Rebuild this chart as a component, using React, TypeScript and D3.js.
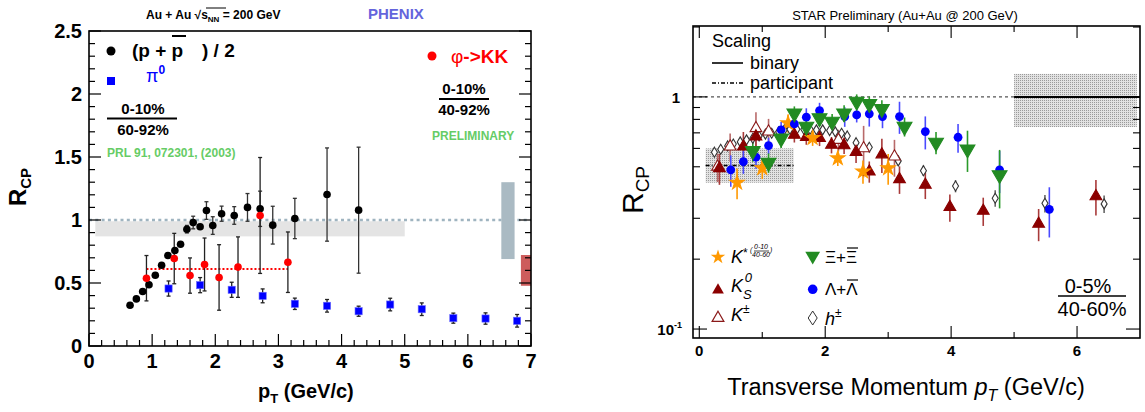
import React from 'react';
import * as d3 from 'd3';

// left panel: PHENIX
const ppPt = [0.65, 0.75, 0.85, 0.95, 1.05, 1.15, 1.25, 1.36, 1.45, 1.55, 1.65, 1.76, 1.86, 1.96, 2.10, 2.30, 2.51, 2.71, 2.91, 3.26, 3.77, 4.27];
const ppR = [0.324, 0.374, 0.432, 0.486, 0.562, 0.641, 0.718, 0.758, 0.808, 0.927, 0.98, 0.946, 1.075, 0.956, 1.05, 1.036, 1.10, 1.089, 0.959, 1.012, 1.202, 1.078];
const ppErr = [0, 0, 0, 0, 0, 0, 0, 0, 0, 0.03, 0.05, 0, 0.07, 0.07, 0.06, 0.07, 0.11, 0.14, 0.15, 0.16, 0.37, 0.5];

const phiPt = [0.91, 1.35, 1.60, 1.83, 2.06, 2.36, 2.71, 3.15];
const phiR = [0.538, 0.694, 0.559, 0.647, 0.544, 0.626, 1.036, 0.665];
const phiErr = [0.18, 0.2, 0.14, 0.21, 0.26, 0.24, 0.46, 0.24];
const phiMean = 0.612;

const piPt = [1.26, 1.76, 2.26, 2.75, 3.26, 3.77, 4.27, 4.77, 5.27, 5.77, 6.28, 6.78];
const piR = [0.456, 0.483, 0.446, 0.398, 0.335, 0.319, 0.276, 0.329, 0.292, 0.221, 0.218, 0.2];
const piErr = [0.06, 0.06, 0.06, 0.055, 0.045, 0.05, 0.04, 0.05, 0.05, 0.04, 0.045, 0.05];

const leftYTicks = [0, 0.5, 1, 1.5, 2, 2.5];
const leftXTicks = [0, 1, 2, 3, 4, 5, 6, 7];

// right panel: STAR
const kstPt = [0.60, 1.00, 1.41, 1.80, 2.20, 2.60, 3.00];
const kstR = [0.427, 0.493, 0.77, 0.665, 0.544, 0.477, 0.493];
const kstErr = [0.065, 0.05, 0.07, 0.05, 0.04, 0.055, 0.075];

const ksPt = [0.32, 0.70, 0.90, 1.51, 1.70, 1.91, 2.10, 2.30, 2.49, 2.70, 2.90, 3.18, 3.59, 3.98, 4.51, 5.39, 6.30];
const ksR = [0.493, 0.611, 0.675, 0.686, 0.672, 0.664, 0.621, 0.618, 0.579, 0.477, 0.565, 0.442, 0.418, 0.335, 0.323, 0.284, 0.373];
const ksErr = [0.075, 0.095, 0.08, 0.05, 0.05, 0.05, 0.05, 0.05, 0.06, 0.05, 0.095, 0.06, 0.055, 0.045, 0.045, 0.045, 0.065];

const kcPt = [0.29, 0.49, 0.90, 1.10, 2.21, 2.61, 3.10];
const kcR = [0.50, 0.611, 0.733, 0.709, 0.652, 0.60, 0.553];
const kcErr = [0.07, 0.085, 0.125, 0.095, 0.07, 0.15, 0.1];

const xiPt = [0.85, 1.10, 1.30, 1.51, 1.70, 1.91, 2.11, 2.30, 2.50, 2.70, 2.90, 3.26, 3.76, 4.26, 4.77];
const xiR = [0.585, 0.521, 0.663, 0.85, 0.745, 0.81, 0.783, 0.85, 0.955, 0.933, 0.888, 0.745, 0.636, 0.595, 0.461];
const xiErr = [0.06, 0.05, 0.06, 0.06, 0.06, 0.06, 0.06, 0.07, 0.07, 0.07, 0.08, 0.07, 0.07, 0.12, 0.13];

const lamPt = [0.50, 0.70, 0.90, 1.10, 1.30, 1.51, 1.70, 1.91, 2.31, 2.50, 2.70, 2.91, 3.18, 3.59, 4.11, 4.77, 5.56];
const lamR = [0.485, 0.526, 0.55, 0.617, 0.721, 0.765, 0.818, 0.873, 0.823, 0.836, 0.845, 0.823, 0.823, 0.709, 0.67, 0.485, 0.328];
const lamErr = [0.075, 0.06, 0.06, 0.05, 0.06, 0.06, 0.075, 0.07, 0.08, 0.06, 0.1, 0.09, 0.13, 0.115, 0.095, 0.1, 0.08];

const hPt = [0.24, 0.34, 0.45, 0.54, 0.65, 0.75, 0.85, 0.95, 1.05, 1.15, 1.26, 1.35, 1.44, 1.55, 1.66, 1.76, 1.86, 1.96, 2.07, 2.16, 2.26, 2.35, 2.49, 2.70, 3.16, 3.56, 4.07, 4.70, 5.49, 6.43];
const hR = [0.578, 0.595, 0.615, 0.627, 0.640, 0.653, 0.663, 0.679, 0.691, 0.697, 0.707, 0.721, 0.726, 0.726, 0.726, 0.726, 0.721, 0.721, 0.716, 0.707, 0.697, 0.679, 0.635, 0.607, 0.530, 0.481, 0.413, 0.366, 0.348, 0.346];
const hErr = [0.015, 0.015, 0.015, 0.015, 0.015, 0.015, 0.015, 0.015, 0.015, 0.015, 0.015, 0.015, 0.015, 0.015, 0.015, 0.015, 0.015, 0.015, 0.015, 0.015, 0.015, 0.015, 0.02, 0.02, 0.025, 0.025, 0.025, 0.03, 0.03, 0.03];

const rightXTicks = [0, 1, 2, 3, 4, 5, 6];
const rightYMinor = [0.2, 0.3, 0.4, 0.5, 0.6, 0.7, 0.8, 0.9, 2];

const FONT = 'Liberation Sans, Arial, Helvetica, sans-serif';

export default function App() {
  const xL = d3.scaleLinear().domain([0, 7]).range([89, 531]);
  const yL = d3.scaleLinear().domain([0, 2.5]).range([346, 31]);
  const xR = d3.scaleLinear().domain([-0.1, 7.0]).range([693, 1140]);
  const yR = d3.scaleLog().domain([0.0915, 2.02]).range([338, 26]);

  const triUp = d3.symbol().type(d3.symbolTriangle).size(60)();
  const triDown = d3.symbol().type(d3.symbolTriangle).size(95)();
  const star = d3.symbol().type(d3.symbolStar).size(65)();
  const diamond = 'M0,-5L3,0L0,5L-3,0Z';

  // left ticks
  const lyt = d3.range(0, 26).map(i => i / 10);
  const lxt = d3.range(0, 36).map(i => i / 5);

  const errL = (pts: number[], vals: number[], errs: number[], color: string) =>
    pts.map((p, i) => errs[i] > 0 ? (
      <g key={'e' + i} stroke={color} strokeWidth={1.3}>
        <line x1={xL(p)} x2={xL(p)} y1={yL(vals[i] - errs[i])} y2={yL(vals[i] + errs[i])} />
        <line x1={xL(p) - 2} x2={xL(p) + 2} y1={yL(vals[i] - errs[i])} y2={yL(vals[i] - errs[i])} />
        <line x1={xL(p) - 2} x2={xL(p) + 2} y1={yL(vals[i] + errs[i])} y2={yL(vals[i] + errs[i])} />
      </g>
    ) : null);

  const errR = (pts: number[], vals: number[], errs: number[], color: string) =>
    pts.map((p, i) => (
      <line key={'r' + i} x1={xR(p)} x2={xR(p)} y1={yR(vals[i] - errs[i])} y2={yR(vals[i] + errs[i])} stroke={color} strokeWidth={1.6} />
    ));

  const marksR = (pts: number[], vals: number[], path: string, fill: string, stroke: string, rot = 0) =>
    pts.map((p, i) => (
      <path key={'m' + i} d={path} transform={`translate(${xR(p)},${yR(vals[i])}) rotate(${rot})`} fill={fill} stroke={stroke} strokeWidth={1.1} />
    ));

  return (
    <svg width={1145} height={412} style={{ position: 'absolute', left: 0, top: 0, background: '#fff' }} fontFamily={FONT}>
      <defs>
        <pattern id="stip" width="2" height="2" patternUnits="userSpaceOnUse">
          <rect width="2" height="2" fill="#e2e2e2" />
          <rect width="1" height="1" fill="#9a9a9a" />
        </pattern>
        <clipPath id="clipR"><rect x={693} y={26} width={447} height={312} /></clipPath>
      </defs>

      {/* ---------- left panel ---------- */}
      <text x={146} y={19} fontSize={12} fontWeight="bold">Au + Au  √<tspan>s</tspan><tspan fontSize={8} dy={3}>NN</tspan><tspan dy={-3}> = 200 GeV</tspan></text>
      <line x1={206} x2={226} y1={8} y2={8} stroke="#000" strokeWidth={1} />
      <text x={368} y={19} fontSize={15} fontWeight="bold" fill="#6464dc">PHENIX</text>

      <rect x={xL(0.1)} y={yL(0.99)} width={xL(5.0) - xL(0.1)} height={yL(0.87) - yL(0.99)} fill="#e4e4e4" />
      <line x1={xL(0)} x2={xL(7)} y1={yL(1)} y2={yL(1)} stroke="#9fb4c0" strokeWidth={2.5} strokeDasharray="3 3.3" />
      <rect x={xL(6.53)} y={yL(1.3)} width={xL(6.74) - xL(6.53)} height={yL(0.69) - yL(1.3)} fill="#aabac3" />
      <rect x={xL(6.84)} y={yL(0.722)} width={xL(7) - xL(6.84)} height={yL(0.478) - yL(0.722)} fill="#cd5c5c" />

      <line x1={xL(phiPt[0])} x2={xL(phiPt[phiPt.length - 1])} y1={yL(phiMean)} y2={yL(phiMean)} stroke="#ff0000" strokeWidth={2} strokeDasharray="2 2" />

      {errL(ppPt, ppR, ppErr, '#333')}
      {errL(phiPt, phiR, phiErr, '#222')}
      {errL(piPt, piR, piErr, '#222')}
      {ppPt.map((p, i) => <circle key={'pp' + i} cx={xL(p)} cy={yL(ppR[i])} r={3.8} fill="#000" />)}
      {phiPt.map((p, i) => <circle key={'ph' + i} cx={xL(p)} cy={yL(phiR[i])} r={3.8} fill="#ff0000" />)}
      {piPt.map((p, i) => <rect key={'pi' + i} x={xL(p) - 3.6} y={yL(piR[i]) - 3.6} width={7.2} height={7.2} fill="#0000ff" stroke="#6a6aff" strokeWidth={0.6} />)}

      {/* frame + ticks */}
      <rect x={89} y={31} width={442} height={315} fill="none" stroke="#000" strokeWidth={1.6} />
      {lyt.map((v, i) => {
        const len = i % 5 === 0 ? 12 : 6;
        return (
          <g key={'ly' + i} stroke="#000" strokeWidth={1.2}>
            <line x1={89} x2={89 + len} y1={yL(v)} y2={yL(v)} />
            <line x1={531} x2={531 - len} y1={yL(v)} y2={yL(v)} />
          </g>
        );
      })}
      {lxt.map((v, i) => {
        const len = i % 5 === 0 ? 12 : 6;
        return <line key={'lx' + i} x1={xL(v)} x2={xL(v)} y1={346} y2={346 - len} stroke="#000" strokeWidth={1.2} />;
      })}
      {leftYTicks.map(v => (
        <text key={'lyl' + v} x={82} y={yL(v) + 7} textAnchor="end" fontSize={20} fontWeight="bold">{v}</text>
      ))}
      {leftXTicks.map(v => (
        <text key={'lxl' + v} x={xL(v)} y={368} textAnchor="middle" fontSize={20} fontWeight="bold">{v}</text>
      ))}
      <text x={258} y={398} fontSize={20} fontWeight="bold">p<tspan fontSize={13} dy={5}>T</tspan><tspan dy={-5}> (GeV/c)</tspan></text>
      <text transform="translate(26,187) rotate(-90)" textAnchor="middle" fontSize={24} fontWeight="bold">R<tspan fontSize={15} dy={5}>CP</tspan></text>

      {/* left legend */}
      <circle cx={111} cy={51} r={4.5} fill="#000" />
      <text x={132} y={57} fontSize={19} fontWeight="bold">(p + p</text>
      <line x1={172} x2={186} y1={36} y2={36} stroke="#000" strokeWidth={2} />
      <text x={202} y={57} fontSize={19} fontWeight="bold">) / 2</text>
      <rect x={107} y={77} width={8} height={8} fill="#0000ff" />
      <text x={146} y={82} fontSize={18} fill="#0000ff">π<tspan fontSize={12} dy={-8} fontWeight="bold">0</tspan></text>
      <text x={143} y={114} textAnchor="middle" fontSize={15} fontWeight="bold">0-10%</text>
      <line x1={107} x2={177} y1={118.5} y2={118.5} stroke="#000" strokeWidth={2} />
      <text x={143} y={135} textAnchor="middle" fontSize={15} fontWeight="bold">60-92%</text>
      <circle cx={432} cy={56} r={4.5} fill="#ff0000" />
      <text x={451} y={63} fontSize={19} fontWeight="bold" fill="#ff0000"><tspan fontWeight="normal">φ</tspan>-&gt;KK</text>
      <text x={464} y={94} textAnchor="middle" fontSize={15} fontWeight="bold">0-10%</text>
      <line x1={439} x2={489} y1={99} y2={99} stroke="#000" strokeWidth={2} />
      <text x={464} y={115} textAnchor="middle" fontSize={15} fontWeight="bold">40-92%</text>
      <text x={432} y={140} fontSize={12} fontWeight="bold" fill="#66cc66">PRELIMINARY</text>
      <text x={107} y={157} fontSize={12} fontWeight="bold" fill="#66cc66">PRL 91, 072301, (2003)</text>

      {/* ---------- right panel ---------- */}
      <text x={905} y={20} textAnchor="middle" fontSize={13}>STAR Preliminary (Au+Au @ 200 GeV)</text>

      <g clipPath="url(#clipR)">
        <rect x={xR(0.1)} y={yR(0.6)} width={xR(1.5) - xR(0.1)} height={yR(0.427) - yR(0.6)} fill="url(#stip)" />
        <line x1={xR(0.1)} x2={xR(1.5)} y1={yR(0.506)} y2={yR(0.506)} stroke="#000" strokeWidth={1.5} strokeDasharray="4 2 1 2" />
        <rect x={xR(5.0)} y={yR(1.256)} width={xR(6.95) - xR(5.0)} height={yR(0.742) - yR(1.256)} fill="url(#stip)" />
        <line x1={xR(-0.1)} x2={xR(5.0)} y1={yR(1)} y2={yR(1)} stroke="#555" strokeWidth={1.2} strokeDasharray="3 3" />
        <line x1={xR(5.0)} x2={xR(7.0)} y1={yR(1)} y2={yR(1)} stroke="#000" strokeWidth={2} />

        {errR(hPt, hR, hErr, '#666')}
        {errR(kcPt, kcR, kcErr, '#b86a6a')}
        {errR(ksPt, ksR, ksErr, '#a83a3a')}
        {errR(kstPt, kstR, kstErr, '#ff9900')}
        {errR(lamPt, lamR, lamErr, '#4a4aff')}
        {errR(xiPt, xiR, xiErr, '#2a9a2a')}

        {marksR(hPt, hR, diamond, '#fff', '#333')}
        {marksR(kcPt, kcR, triUp, '#fff', '#8b1a1a')}
        {marksR(ksPt, ksR, triUp, '#8b0000', '#8b0000')}
        {marksR(kstPt, kstR, star, '#ff9900', '#ff9900')}
        {lamPt.map((p, i) => <circle key={'lam' + i} cx={xR(p)} cy={yR(lamR[i])} r={4.4} fill="#0000ff" />)}
        {marksR(xiPt, xiR, triDown, '#228b22', '#228b22', 180)}
      </g>

      <rect x={693} y={26} width={447} height={312} fill="none" stroke="#000" strokeWidth={1.6} />
      {rightXTicks.map(v => {
        const len = v % 2 === 0 ? 12 : 6;
        return (
          <g key={'rx' + v} stroke="#000" strokeWidth={1.1}>
            <line x1={xR(v)} x2={xR(v)} y1={338} y2={338 - len} />
            <line x1={xR(v)} x2={xR(v)} y1={26} y2={26 + len} />
          </g>
        );
      })}
      {[0.1, 1].map(v => (
        <g key={'ryM' + v} stroke="#000" strokeWidth={1.1}>
          <line x1={693} x2={707} y1={yR(v)} y2={yR(v)} />
          <line x1={1140} x2={1126} y1={yR(v)} y2={yR(v)} />
        </g>
      ))}
      {rightYMinor.map(v => (
        <g key={'rym' + v} stroke="#000" strokeWidth={1.1}>
          <line x1={693} x2={700} y1={yR(v)} y2={yR(v)} />
          <line x1={1140} x2={1133} y1={yR(v)} y2={yR(v)} />
        </g>
      ))}
      <text x={680} y={yR(1) + 6} textAnchor="end" fontSize={15} fontWeight="bold">1</text>
      <text x={682} y={yR(0.1) + 6} textAnchor="end" fontSize={15} fontWeight="bold">10<tspan fontSize={9} dy={-7}>-1</tspan></text>
      {[0, 2, 4, 6].map(v => (
        <text key={'rxl' + v} x={xR(v)} y={356} textAnchor="middle" fontSize={15} fontWeight="bold">{v}</text>
      ))}
      <text x={906} y={395} textAnchor="middle" fontSize={23.5}>Transverse Momentum <tspan fontStyle="italic">p</tspan><tspan fontStyle="italic" fontSize={16} dy={6}>T</tspan><tspan dy={-6}> (GeV/c)</tspan></text>
      <text transform="translate(643,190) rotate(-90)" textAnchor="middle" fontSize={30}>R<tspan fontSize={19} dy={6}>CP</tspan></text>

      {/* right legends */}
      <text x={712} y={47} fontSize={18}>Scaling</text>
      <line x1={712} x2={743} y1={63} y2={63} stroke="#000" strokeWidth={1.6} />
      <text x={750} y={69} fontSize={18}>binary</text>
      <line x1={712} x2={743} y1={83} y2={83} stroke="#000" strokeWidth={1.4} strokeDasharray="4 2 1 2" />
      <text x={750} y={89} fontSize={18}>participant</text>

      <path d={star} transform="translate(718,257)" fill="#ff9900" />
      <text x={731} y={263} fontSize={18} fontStyle="italic">K</text>
      <text x={743} y={257} fontSize={12}>*</text>
      <text x={750} y={252} fontSize={7} fontStyle="italic">(</text>
      <text x={761} y={249} fontSize={7} fontStyle="italic" textAnchor="middle">0-10</text>
      <line x1={754} x2={769} y1={251} y2={251} stroke="#000" strokeWidth={0.7} />
      <text x={761} y={257} fontSize={7} fontStyle="italic" textAnchor="middle">40-60</text>
      <text x={770} y={252} fontSize={7} fontStyle="italic">)</text>

      <path d={triUp} transform="translate(718,290)" fill="#8b0000" />
      <text x={731} y={292} fontSize={18} fontStyle="italic">K<tspan fontSize={13} dy={7}>S</tspan><tspan fontSize={13} dx={-7} dy={-17}>0</tspan></text>
      <path d={triUp} transform="translate(718,318)" fill="#fff" stroke="#8b1a1a" strokeWidth={1.2} />
      <text x={731} y={321} fontSize={18} fontStyle="italic">K<tspan fontSize={12} dy={-8} fontStyle="normal">±</tspan></text>

      <path d={triDown} transform="translate(812.7,256) rotate(180)" fill="#228b22" />
      <text x={825} y={263} fontSize={17}>Ξ+Ξ</text>
      <line x1={847} x2={858} y1={248} y2={248} stroke="#000" strokeWidth={1.2} />
      <circle cx={812.7} cy={289.3} r={4.8} fill="#0000ff" />
      <text x={825} y={295} fontSize={17}>Λ+Λ</text>
      <line x1={847} x2={858} y1={280} y2={280} stroke="#000" strokeWidth={1.2} />
      <path d="M0,-7L4.5,0L0,7L-4.5,0Z" transform="translate(812.7,318)" fill="#fff" stroke="#333" strokeWidth={1} />
      <text x={825} y={325} fontSize={18} fontStyle="italic">h<tspan fontSize={12} dy={-8} fontStyle="normal">±</tspan></text>

      <text x={1088} y={293} textAnchor="middle" fontSize={20}>0-5%</text>
      <line x1={1058} x2={1126} y1={296} y2={296} stroke="#000" strokeWidth={1.5} />
      <text x={1092} y={316} textAnchor="middle" fontSize={20}>40-60%</text>
    </svg>
  );
}
